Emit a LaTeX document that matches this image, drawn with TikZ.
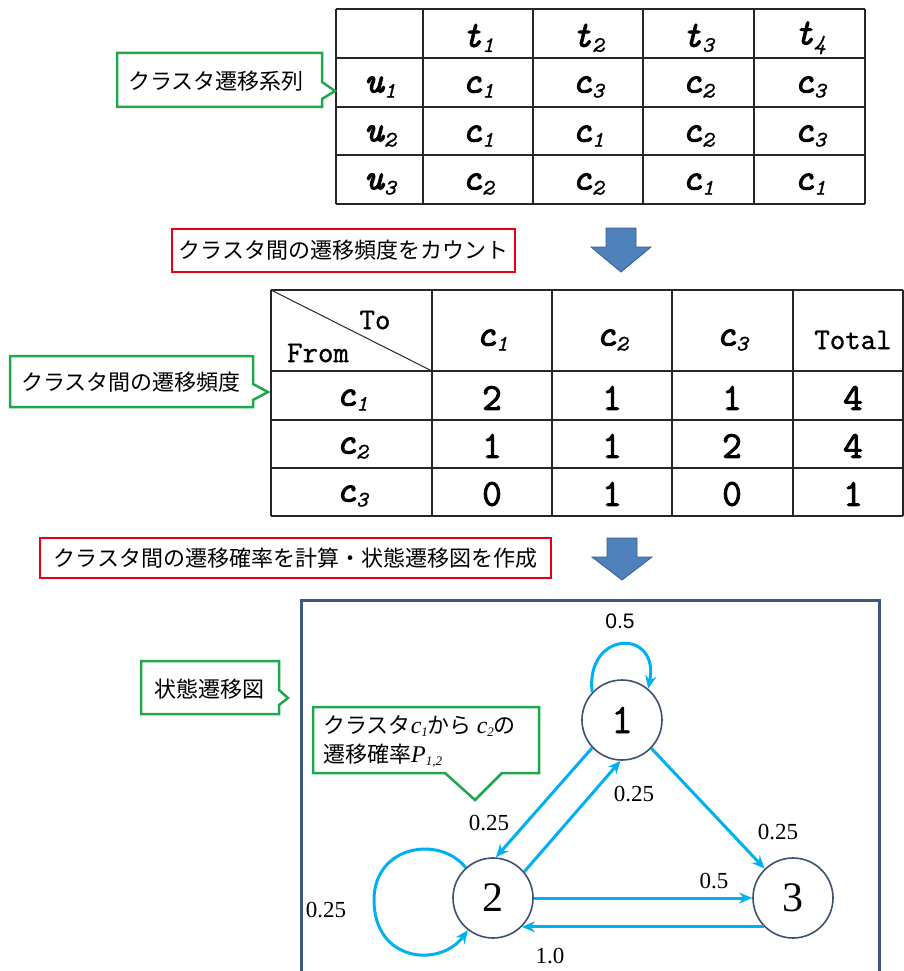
\documentclass[tikz,border=0pt]{standalone}
\usepackage{fontspec}
\newfontfamily\cjk{Noto Sans CJK JP}
\newfontfamily\cmono[FakeBold=1.2]{Latin Modern Mono}
\newfontfamily\cmonob[FakeBold=2.5]{Latin Modern Mono}
\newfontfamily\ser{Liberation Serif}
\newfontfamily\sansf{Liberation Sans}
\usetikzlibrary{arrows.meta,calc}
\definecolor{callgreen}{RGB}{30,168,75}
\definecolor{boxred}{RGB}{230,0,18}
\definecolor{blockblue}{RGB}{79,129,189}
\definecolor{blockedge}{RGB}{56,93,138}
\definecolor{framebl}{RGB}{60,88,132}
\definecolor{edgecyan}{RGB}{0,176,240}
\definecolor{nodeline}{RGB}{62,80,112}
\newcommand\tcell[2]{{\fontsize{37}{37}\cmonob\itshape #1}\kern0.5pt\raisebox{-5pt}{\fontsize{22}{22}\cmono\itshape #2}}
\newcommand\icell[2]{{\fontsize{24}{24}\ser\itshape #1}\raisebox{-3pt}{\fontsize{13}{13}\ser\itshape #2}}
\tikzset{
  grid/.style={line width=1.2pt, black!85},
  callout/.style={draw=callgreen, line width=2.5pt, fill=white, line join=miter},
  calltext/.style={font=\fontsize{22}{26}\cjk, inner sep=0pt},
  redbox/.style={draw=boxred, line width=2.2pt, fill=white, font=\fontsize{22}{26}\cjk, inner sep=0pt},
  blockarrow/.style={fill=blockblue, draw=blockedge, line width=0.8pt},
  tcelltext/.style={inner sep=0pt, anchor=center},
  numtext/.style={font=\fontsize{38}{38}\cmonob, inner sep=0pt},
  headtext/.style={font=\fontsize{30}{30}\cmono, inner sep=0pt},
  state/.style={circle, draw=nodeline, line width=1.6pt, minimum size=80pt, inner sep=0pt, fill=white},
  trans/.style={draw=edgecyan, line width=3pt, -{Stealth[length=13pt,width=11pt]}},
  elabel/.style={font=\fontsize{23}{23}\ser, inner sep=0pt},
}
\begin{document}
\begin{tikzpicture}[x=1pt,y=-1pt]
\useasboundingbox (0,0) rectangle (904,971);

% ---------- table 1 ----------
\foreach \yy in {9,58,107,155,204} \draw[grid] (336,\yy) -- (865,\yy);
\foreach \xx in {336,423,533,643,754,865} \draw[grid] (\xx,9) -- (\xx,204);
\node[tcelltext] (h1) at (478,38) {\tcell{t}{1}};
\node[tcelltext] (h2) at (588,38) {\tcell{t}{2}};
\node[tcelltext] (h3) at (698,38) {\tcell{t}{3}};
\node[tcelltext] (h4) at (810,38) {\tcell{t}{4}};
\node[tcelltext] (r1) at (380,87) {\tcell{u}{1}};
\node[tcelltext] (r2) at (380,136) {\tcell{u}{2}};
\node[tcelltext] (r3) at (380,184) {\tcell{u}{3}};
\node[tcelltext] (a11) at (478,87) {\tcell{c}{1}};
\node[tcelltext] (a12) at (588,87) {\tcell{c}{3}};
\node[tcelltext] (a13) at (698,87) {\tcell{c}{2}};
\node[tcelltext] (a14) at (810,87) {\tcell{c}{3}};
\node[tcelltext] (a21) at (478,136) {\tcell{c}{1}};
\node[tcelltext] (a22) at (588,136) {\tcell{c}{1}};
\node[tcelltext] (a23) at (698,136) {\tcell{c}{2}};
\node[tcelltext] (a24) at (810,136) {\tcell{c}{3}};
\node[tcelltext] (a31) at (478,184) {\tcell{c}{2}};
\node[tcelltext] (a32) at (588,184) {\tcell{c}{2}};
\node[tcelltext] (a33) at (698,184) {\tcell{c}{1}};
\node[tcelltext] (a34) at (810,184) {\tcell{c}{1}};

% callout 1
\draw[callout] (117,53) -- (322,53) -- (322,82) -- (335,91) -- (322,99) -- (322,107) -- (117,107) -- cycle;
\node[calltext] (co1) at (216,81) {クラスタ遷移系列};

% red box 1 and block arrow 1
\node[redbox, minimum width=343pt, minimum height=43pt] (rb1) at (343.5,250.5) {クラスタ間の遷移頻度をカウント};
\draw[blockarrow] (606,228) -- (636,228) -- (636,247) -- (651,247) -- (621,272) -- (591,247) -- (606,247) -- cycle;

% ---------- table 2 ----------
\foreach \yy in {290,371,420,468,516} \draw[grid] (271,\yy) -- (903,\yy);
\foreach \xx in {271,432,552,672,793,903} \draw[grid] (\xx,290) -- (\xx,516);
\draw[line width=1pt, black!85] (271,290) -- (432,371);
\node[headtext] (to) at (375,320) {To};
\node[headtext] (from) at (318,353) {From};
\node[tcelltext] (g1) at (492,340) {\tcell{c}{1}};
\node[tcelltext] (g2) at (612,340) {\tcell{c}{2}};
\node[tcelltext] (g3) at (732,340) {\tcell{c}{3}};
\node[headtext] (tot) at (853,340) {Total};
\node[tcelltext] (f1) at (352,400) {\tcell{c}{1}};
\node[tcelltext] (f2) at (352,448) {\tcell{c}{2}};
\node[tcelltext] (f3) at (352,496) {\tcell{c}{3}};
\node[numtext] (n11) at (492,398) {2};
\node[numtext] (n12) at (612,398) {1};
\node[numtext] (n13) at (732,398) {1};
\node[numtext] (n14) at (853,398) {4};
\node[numtext] (n21) at (492,446) {1};
\node[numtext] (n22) at (612,446) {1};
\node[numtext] (n23) at (732,446) {2};
\node[numtext] (n24) at (853,446) {4};
\node[numtext] (n31) at (492,494) {0};
\node[numtext] (n32) at (612,494) {1};
\node[numtext] (n33) at (732,494) {0};
\node[numtext] (n34) at (853,494) {1};

% callout 2
\draw[callout] (10,356) -- (253,356) -- (253,384) -- (268,392) -- (253,400) -- (253,407) -- (10,407) -- cycle;
\node[calltext] (co2) at (131,382) {クラスタ間の遷移頻度};

% red box 2 and block arrow 2
\node[redbox, minimum width=511pt, minimum height=40pt] (rb2) at (295.5,558) {クラスタ間の遷移確率を計算・状態遷移図を作成};
\draw[blockarrow] (607,538) -- (637,538) -- (637,557) -- (652,557) -- (622,580) -- (592,557) -- (607,557) -- cycle;

% ---------- state diagram ----------
\draw[draw=framebl, line width=3pt] (301,975) -- (301,600) -- (879,600) -- (879,975);

\draw[callout] (141,661) -- (279,661) -- (279,690) -- (288,698) -- (279,705) -- (279,714) -- (141,714) -- cycle;
\node[calltext] (co3) at (209,689) {状態遷移図};

\draw[callout] (313,707) -- (539,707) -- (539,773) -- (502,773) -- (475,800) -- (445,773) -- (313,773) -- cycle;
\node[calltext, anchor=base west] (co4a) at (323,733) {クラスタ\icell{c}{1}から \icell{c}{2}の};
\node[calltext, anchor=base west] (co4b) at (323,762) {遷移確率\icell{P}{1,2}};

\node[state, font=\fontsize{42}{42}\cmono] (s1) at (622,720) {1};
\node[state, font=\fontsize{42}{42}\ser] (s2) at (493,898) {2};
\node[state, font=\fontsize{42}{42}\ser] (s3) at (793,898) {3};

\draw[trans] (s1.137) .. controls (585,630) and (660,628) .. (s1.50);
\draw[trans] (s2.132) .. controls (440,835) and (374,845) .. (374,900) .. controls (374,962) and (440,968) .. (s2.232);
\draw[trans] (s1.223) -- (s2.86);
\draw[trans] (s2.40) -- (s1.268);
\draw[trans] (s1.316) -- (s3.134);
\draw[trans] (s2.0) -- (s3.180);
\draw[trans] (s3.225) -- (s2.-45);

\node[font=\fontsize{21}{21}\sansf, inner sep=0pt] (l11) at (620,621) {0.5};
\node[elabel] (l12) at (489,823) {0.25};
\node[elabel] (l21) at (634,794) {0.25};
\node[elabel] (l13) at (778,832) {0.25};
\node[elabel] (l23) at (714,881) {0.5};
\node[elabel] (l32) at (550,956) {1.0};
\node[elabel] (l22) at (326,910) {0.25};
\end{tikzpicture}
\end{document}
